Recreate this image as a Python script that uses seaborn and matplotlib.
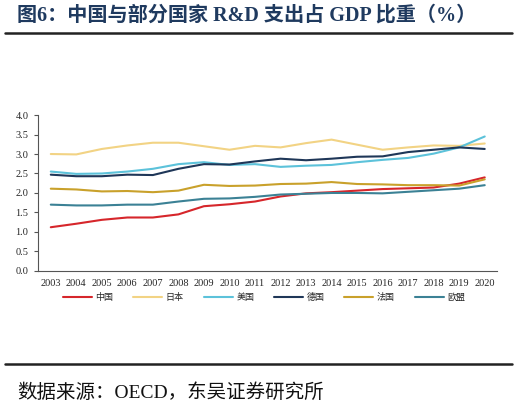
import pandas as pd
import seaborn as sns
import matplotlib.pyplot as plt
from matplotlib.lines import Line2D

# data (% of GDP)
years = [str(y) for y in range(2003, 2021)]
china = [1.12, 1.21, 1.31, 1.37, 1.37, 1.45, 1.66, 1.71, 1.78, 1.91, 1.99, 2.02, 2.06, 2.10, 2.12, 2.14, 2.24, 2.40]
japan = [3.00, 2.99, 3.13, 3.22, 3.29, 3.29, 3.20, 3.11, 3.21, 3.17, 3.28, 3.37, 3.24, 3.11, 3.17, 3.22, 3.21, 3.27]
usa = [2.55, 2.49, 2.50, 2.55, 2.62, 2.74, 2.79, 2.72, 2.74, 2.67, 2.70, 2.72, 2.79, 2.85, 2.90, 3.01, 3.17, 3.45]
germany = [2.47, 2.43, 2.43, 2.47, 2.46, 2.62, 2.74, 2.73, 2.81, 2.88, 2.84, 2.88, 2.93, 2.94, 3.05, 3.11, 3.17, 3.13]
france = [2.11, 2.09, 2.04, 2.05, 2.02, 2.06, 2.21, 2.18, 2.19, 2.23, 2.24, 2.28, 2.23, 2.22, 2.20, 2.20, 2.19, 2.35]
eu = [1.70, 1.68, 1.68, 1.70, 1.70, 1.78, 1.85, 1.86, 1.90, 1.96, 1.98, 2.00, 2.00, 1.99, 2.03, 2.07, 2.11, 2.20]

names = ['中国', '日本', '美国', '德国', '法国', '欧盟']
colors = ['#d6262b', '#f2d384', '#5cc2da', '#1f3758', '#c9a12b', '#3b8195']

df = pd.DataFrame({'year': years, '中国': china, '日本': japan, '美国': usa,
                   '德国': germany, '法国': france, '欧盟': eu})
df_long = df.melt(id_vars='year', var_name='country', value_name='value')

sns.set_style('white')
plt.rcParams['font.family'] = ['Noto Sans CJK SC', 'DejaVu Sans']
mixed = ['Liberation Serif', 'Noto Sans CJK SC']

fig = plt.figure(figsize=(5.18, 4.11), dpi=100)
ax = fig.add_axes([0.0734, 0.341, 0.887, 0.379])

sns.lineplot(data=df_long, x='year', y='value', hue='country', hue_order=names,
             palette=colors, linewidth=1.5, ax=ax, legend=False, sort=False)

ax.set_xlim(-0.5, len(years) - 0.5)
ax.set_ylim(0, 4.0)
ax.set_yticks([i * 0.5 for i in range(9)])
ax.set_yticklabels([f'{i * 0.5:.1f}' for i in range(9)], fontfamily='Liberation Serif', fontsize=7.5)
ax.set_xticks([i - 0.5 for i in range(len(years) + 1)])
ax.set_xticklabels([])
ax.set_xticks(range(len(years)), minor=True)
ax.set_xticklabels(years, minor=True, fontfamily='Liberation Serif', fontsize=7.5)
ax.tick_params(axis='x', which='major', length=3, color='#555555', width=0.8)
ax.tick_params(axis='x', which='minor', length=0, pad=6)
ax.tick_params(axis='y', length=3, color='#555555', width=0.8, pad=4, left=True)
ax.set_xlabel('')
ax.set_ylabel('')
sns.despine(ax=ax)
for s in ['left', 'bottom']:
    ax.spines[s].set_color('#555555')
    ax.spines[s].set_linewidth(0.8)

handles = [Line2D([0], [0], color=c, lw=1.5) for c in colors]
fig.legend(handles, names, loc='center', bbox_to_anchor=(0.51, 0.277), ncol=6,
           frameon=False, fontsize=6.5, handlelength=3.2, columnspacing=2.2,
           handletextpad=0.4)

# title and source
fig.text(0.032, 0.962, '图6：中国与部分国家 R&D 支出占 GDP 比重（%）', fontsize=14.5,
         fontweight='bold', color='#1f3a5f', va='center', ha='left', family=mixed)
fig.add_artist(Line2D([0.01, 0.988], [0.92, 0.92], color='#222222', lw=1.8))
fig.add_artist(Line2D([0.01, 0.988], [0.114, 0.114], color='#222222', lw=1.8))
fig.text(0.033, 0.046, '数据来源：OECD，东吴证券研究所', fontsize=14, color='#111111',
         va='center', ha='left', family=mixed)

fig.savefig('out.png', dpi=100)
